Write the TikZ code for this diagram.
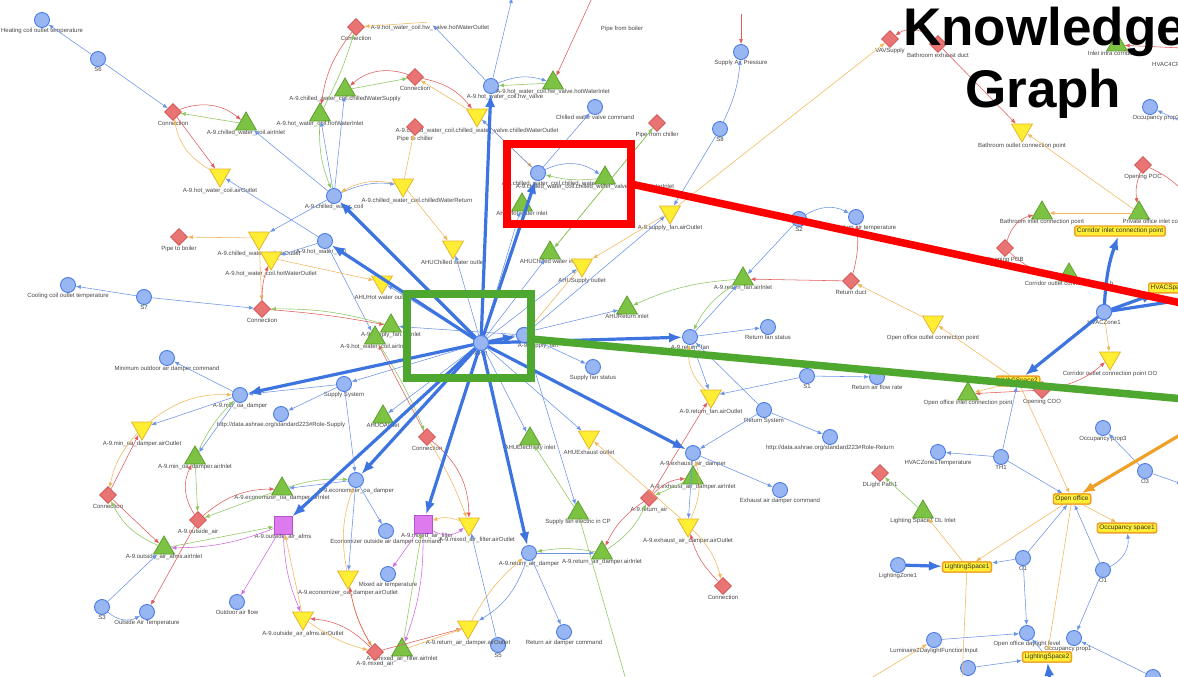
\documentclass[tikz,border=0pt]{standalone}
\usepackage{fontspec}
\setmainfont{Liberation Sans}
\usetikzlibrary{arrows.meta,shapes.geometric}

\definecolor{cf}{HTML}{97B6F2}
\definecolor{cb}{HTML}{4B7BE5}
\definecolor{gf}{HTML}{7CC243}
\definecolor{gb}{HTML}{5E9F2F}
\definecolor{yf}{HTML}{FFEE33}
\definecolor{yb}{HTML}{E3B52A}
\definecolor{rf}{HTML}{E87474}
\definecolor{rb}{HTML}{D24C4C}
\definecolor{mf}{HTML}{DD7BEE}
\definecolor{mb}{HTML}{B553CC}
\definecolor{ob}{HTML}{EFA028}
\definecolor{lb}{HTML}{6A93E8}
\definecolor{lo}{HTML}{F2B75A}
\definecolor{lg}{HTML}{8DC65E}
\definecolor{lr}{HTML}{E25B5B}
\definecolor{lm}{HTML}{CE6AE2}
\definecolor{tb}{HTML}{3D74E0}
\definecolor{hred}{HTML}{FF0000}
\definecolor{hgreen}{HTML}{4EA72E}

\tikzset{
  lbl/.style={font=\fontsize{6}{7}\selectfont,text=black!72,inner sep=0pt},
  cir/.style={circle,draw=cb,fill=cf,line width=0.9pt,minimum size=15pt,inner sep=0pt,label distance=5pt},
  gtri/.style={regular polygon,regular polygon sides=3,draw=gb,fill=gf,line width=0.8pt,minimum size=24pt,inner sep=0pt,label distance=5pt},
  ytri/.style={regular polygon,regular polygon sides=3,shape border rotate=180,draw=yb,fill=yf,line width=0.8pt,minimum size=24pt,inner sep=0pt,label distance=1pt},
  dia/.style={diamond,draw=rb,fill=rf,line width=0.8pt,minimum size=17pt,inner sep=0pt,label distance=4pt},
  sq/.style={rectangle,draw=mb,fill=mf,line width=0.8pt,minimum size=18pt,inner sep=0pt,label distance=4pt},
  ybox/.style={rectangle,rounded corners=2pt,draw=ob,fill=yf,line width=1.4pt,font=\fontsize{6.5}{7}\selectfont,text=black!80,inner sep=2pt},
  txt/.style={lbl},
  ed/.style={line width=0.55pt,-{Latex[length=5pt,width=4pt]}},
  eB/.style={ed,draw=lb},
  eO/.style={ed,draw=lo},
  eG/.style={ed,draw=lg},
  eR/.style={ed,draw=lr},
  eM/.style={ed,draw=lm},
  eT/.style={draw=tb,line width=3.2pt,-{Latex[length=13pt,width=10pt]}},
  eOT/.style={draw=ob,line width=3.2pt,-{Latex[length=13pt,width=10pt]}},
  hbox/.style={line width=7.5pt},
  ttl/.style={anchor=base west,inner sep=0pt,font=\fontsize{53}{58}\selectfont\bfseries},
}

\begin{document}
\begin{tikzpicture}[x=1pt,y=-1pt]
\useasboundingbox (0,0) rectangle (1178,677);
\clip (0,0) rectangle (1178,677);
\fill[white] (0,0) rectangle (1178,677);

% ---------- circles ----------
\node[cir,label={[lbl]below:{Heating coil outlet temperature}}] (heat) at (42,20) {};
\node[cir,label={[lbl]below:{S6}}] (s6) at (98,59) {};
\node[cir,label={[lbl,xshift=14pt]below:{A-9.hot\_water\_coil.hw\_valve}}] (hwv) at (491,86) {};
\node[cir,label={[lbl]below:{A-9.chilled\_water\_coil}}] (cwc) at (334,196) {};
\node[cir,label={[lbl,xshift=-4pt]below:{A-9.hot\_water\_coil}}] (hwc) at (325,241) {};
\node[cir,label={[lbl,xshift=20pt]below:{A-9.chilled\_water\_coil.chilled\_water\_valve}}] (cwv) at (538,173) {};
\node[cir,label={[lbl]below:{Chilled water valve command}}] (cwvc) at (595,107) {};
\node[cir,label={[lbl]below:{Supply Air Pressure}}] (sap) at (741,52) {};
\node[cir,label={[lbl]below:{S8}}] (s8) at (720,129) {};
\node[cir,label={[lbl]below:{S2}}] (s2) at (799,219) {};
\node[cir,label={[lbl,xshift=10pt]below:{Return air temperature}}] (rat) at (856,217) {};
\node[cir,label={[lbl]below:{AHU}}] (ahu) at (481,343) {};
\node[cir,label={[lbl,xshift=14pt]below:{A-9.supply\_fan}}] (sf) at (524,335) {};
\node[cir,label={[lbl]below:{Supply fan status}}] (sfs) at (593,367) {};
\node[cir,label={[lbl]below:{A-9.return\_fan}}] (rf) at (690,337) {};
\node[cir,label={[lbl]below:{Return fan status}}] (rfs) at (768,327) {};
\node[cir,label={[lbl]below:{S1}}] (s1) at (807,376) {};
\node[cir,label={[lbl]below:{Return air flow rate}}] (rafr) at (877,377) {};
\node[cir,label={[lbl]below:{Return System}}] (rsys) at (764,410) {};
\node[cir,label={[lbl]below:{http://data.ashrae.org/standard223\#Role-Return}}] (rrole) at (830,437) {};
\node[cir,label={[lbl]below:{Supply System}}] (ssys) at (344,384) {};
\node[cir,label={[lbl]below:{A-9.min\_oa\_damper}}] (mind) at (240,395) {};
\node[cir,label={[lbl]below:{Minimum outdoor air damper command}}] (minc) at (167,358) {};
\node[cir,label={[lbl]below:{http://data.ashrae.org/standard223\#Role-Supply}}] (srole) at (281,414) {};
\node[cir,label={[lbl]below:{A-9.economizer\_oa\_damper}}] (econ) at (356,480) {};
\node[cir,label={[lbl]below:{Economizer outside air damper command}}] (ecmd) at (386,531) {};
\node[cir,label={[lbl]below:{Mixed air temperature}}] (mat) at (388,574) {};
\node[cir,label={[lbl]below:{A-9.return\_air\_damper}}] (rad) at (529,553) {};
\node[cir,label={[lbl]below:{S5}}] (s5) at (498,645) {};
\node[cir,label={[lbl]below:{Return air damper command}}] (radc) at (564,632) {};
\node[cir,label={[lbl]below:{A-9.exhaust\_air\_damper}}] (ead) at (693,453) {};
\node[cir,label={[lbl]below:{Exhaust air damper command}}] (eadc) at (780,490) {};
\node[cir,label={[lbl]below:{Outdoor air flow}}] (oaf) at (237,602) {};
\node[cir,label={[lbl]below:{S3}}] (s3) at (102,607) {};
\node[cir,label={[lbl]below:{Outside Air Temperature}}] (oat) at (147,612) {};
\node[cir,label={[lbl]below:{S7}}] (s7) at (144,297) {};
\node[cir,label={[lbl]below:{Cooling coil outlet temperature}}] (ccot) at (68,285) {};
\node[cir,label={[lbl]below:{TH1}}] (th1) at (1001,457) {};
\node[cir,label={[lbl]below:{HVACZone1Temperature}}] (hzt) at (938,452) {};
\node[cir,label={[lbl]below:{O3}}] (o3) at (1145,471) {};
\node[cir,label={[lbl]below:{Occupancy prop3}}] (op3) at (1103,428) {};
\node[cir,label={[lbl]below:{O1}}] (o1a) at (1023,558) {};
\node[cir,label={[lbl]below:{O1}}] (o1b) at (1103,570) {};
\node[cir,label={[lbl]below:{LightingZone1}}] (lz1) at (898,565) {};
\node[cir,label={[lbl]below:{Open office daylight level}}] (odl) at (1027,633) {};
\node[cir,label={[lbl,xshift=-6pt]below:{Occupancy prop1}}] (op1) at (1074,638) {};
\node[cir,label={[lbl]below:{Luminaire2DaylightFunctionInput}}] (lum) at (934,640) {};
\node[cir] (cb1) at (968,668) {};
\node[cir] (cb2) at (1153,677) {};
\node[cir,label={[lbl]below:{HVACZone1}}] (hz1) at (1104,312) {};
\node[cir,label={[lbl,xshift=6pt]below:{Occupancy prop2}}] (opp) at (1150,107) {};

% ---------- inlets ----------
\node[gtri,label={[lbl]below:{A-9.chilled\_water\_coil.airInlet}}] (cwai) at (246,124) {};
\node[gtri,label={[lbl]below:{A-9.hot\_water\_coil.hotWaterInlet}}] (hwhwi) at (320,115) {};
\node[gtri,label={[lbl]below:{A-9.chilled\_water\_coil.chilledWaterSupply}}] (cwsup) at (345,90) {};
\node[gtri,label={[lbl]below:{A-9.hot\_water\_coil.hw\_valve.hotWaterInlet}}] (hwvi) at (553,83) {};
\node[gtri,label={[lbl,xshift=-10pt]below:{A-9.chilled\_water\_coil.chilled\_water\_valve.chilledWaterInlet}}] (cwvi) at (605,178) {};
\node[gtri,label={[lbl]below:{AHUHot water inlet}}] (ahuhwi) at (522,205) {};
\node[gtri,label={[lbl]below:{AHUChilled water inlet}}] (ahucwi) at (550,253) {};
\node[gtri,label={[lbl]below:{AHUReturn inlet}}] (ahuri) at (627,308) {};
\node[gtri,label={[lbl]below:{A-9.return\_fan.airInlet}}] (rfai) at (743,279) {};
\node[gtri,label={[lbl]below:{A-9.supply\_fan.airInlet}}] (sfai) at (391,326) {};
\node[gtri,label={[lbl]below:{A-9.hot\_water\_coil.airInlet}}] (hwai) at (375,338) {};
\node[gtri,label={[lbl]below:{AHUOAInlet}}] (ahuoa) at (383,417) {};
\node[gtri,label={[lbl]below:{AHUElectricity inlet}}] (ahuei) at (530,439) {};
\node[gtri,label={[lbl]below:{Supply fan electric in CP}}] (sfe) at (578,513) {};
\node[gtri,label={[lbl]below:{A-9.return\_air\_damper.airInlet}}] (radi) at (602,553) {};
\node[gtri,label={[lbl]below:{A-9.exhaust\_air\_damper.airInlet}}] (eadi) at (693,478) {};
\node[gtri,label={[lbl]below:{A-9.economizer\_oa\_damper.airInlet}}] (ecai) at (282,489) {};
\node[gtri,label={[lbl]below:{A-9.min\_oa\_damper.airInlet}}] (minai) at (195,458) {};
\node[gtri,label={[lbl]below:{A-9.outside\_air\_afms.airInlet}}] (afmsi) at (164,548) {};
\node[gtri,label={[lbl]below:{A-9.mixed\_air\_filter.airInlet}}] (mafi) at (402,650) {};
\node[gtri,label={[lbl]below:{Bathroom inlet connection point}}] (bici) at (1042,213) {};
\node[gtri,label={[lbl]below:{Inlet intra corridor4CP}}] (iic) at (1117,45) {};
\node[gtri,label={[lbl,xshift=30pt]below:{Private office inlet connection point}}] (cict) at (1139,213) {};
\node[gtri,label={[lbl]below:{Corridor outlet connection point b}}] (cocb) at (1069,275) {};
\node[gtri,label={[lbl]below:{Open office inlet connection point}}] (ooic) at (968,394) {};
\node[gtri,label={[lbl]below:{Lighting Space1 DL Inlet}}] (lsdl) at (923,512) {};

% ---------- outlets ----------
\node[ytri,label={[lbl]below:{A-9.hot\_water\_coil.airOutlet}}] (hwao) at (220,175) {};
\node[ytri,label={[lbl]below:{A-9.chilled\_water\_coil.chilled\_water\_valve.chilledWaterOutlet}}] (cwvo) at (477,115) {};
\node[ytri,label={[lbl,xshift=14pt]below:{A-9.chilled\_water\_coil.chilledWaterReturn}}] (cwret) at (403,185) {};
\node[ytri,label={[lbl]below:{A-9.chilled\_water\_coil.airOutlet}}] (cwao) at (259,238) {};
\node[ytri,label={[lbl]below:{A-9.hot\_water\_coil.hotWaterOutlet}}] (hwhwo) at (271,258) {};
\node[ytri,label={[lbl]below:{AHUChilled water outlet}}] (ahucwo) at (453,247) {};
\node[ytri,label={[lbl]below:{AHUHot water outlet}}] (ahuhwo) at (382,282) {};
\node[ytri,label={[lbl]below:{A-9.supply\_fan.airOutlet}}] (sfao) at (670,212) {};
\node[ytri,label={[lbl]below:{AHUSupply outlet}}] (ahuso) at (582,265) {};
\node[ytri,label={[lbl]below:{A-9.return\_fan.airOutlet}}] (rfao) at (711,396) {};
\node[ytri,label={[lbl]below:{AHUExhaust outlet}}] (ahueo) at (589,437) {};
\node[ytri,label={[lbl]below:{A-9.min\_oa\_damper.airOutlet}}] (minao) at (142,428) {};
\node[ytri,label={[lbl,xshift=8pt]below:{A-9.mixed\_air\_filter.airOutlet}}] (mafo) at (469,524) {};
\node[ytri,label={[lbl]below:{A-9.economizer\_oa\_damper.airOutlet}}] (ecao) at (348,577) {};
\node[ytri,label={[lbl]below:{A-9.outside\_air\_afms.airOutlet}}] (afmso) at (303,618) {};
\node[ytri,label={[lbl]below:{A-9.return\_air\_damper.airOutlet}}] (rado) at (468,627) {};
\node[ytri,label={[lbl]below:{A-9.exhaust\_air\_damper.airOutlet}}] (eado) at (688,525) {};
\node[ytri,label={[lbl]below:{Bathroom outlet connection point}}] (bocp) at (1022,130) {};
\node[ytri,label={[lbl]below:{Open office outlet connection point}}] (oooc) at (933,322) {};
\node[ytri,label={[lbl]below:{Corridor outlet connection point OO}}] (cooo) at (1110,358) {};

% ---------- connections and ducts ----------
\node[dia,label={[lbl]below:{Connection}}] (con1) at (173,112) {};
\node[dia,label={[lbl]below:{Connection}}] (con2) at (356,27) {};
\node[dia,label={[lbl]below:{Connection}}] (con3) at (415,77) {};
\node[dia,label={[lbl]below:{Pipe to chiller}}] (p2c) at (415,127) {};
\node[dia,label={[lbl]below:{Pipe from chiller}}] (pfc) at (657,123) {};
\node[dia,label={[lbl]below:{Pipe to boiler}}] (p2b) at (179,237) {};
\node[dia,label={[lbl]below:{Connection}}] (con4) at (262,309) {};
\node[dia,label={[lbl]below:{Connection}}] (con5) at (427,437) {};
\node[dia,label={[lbl]below:{Return duct}}] (rduct) at (851,281) {};
\node[dia,label={[lbl]below:{A-9.outside\_air}}] (oa) at (198,520) {};
\node[dia,label={[lbl]below:{Connection}}] (con6) at (108,495) {};
\node[dia,label={[lbl]below:{A-9.mixed\_air}}] (ma) at (375,652) {};
\node[dia,label={[lbl]below:{A-9.return\_air}}] (ra) at (649,498) {};
\node[dia,label={[lbl]below:{Connection}}] (con7) at (723,586) {};
\node[dia,label={[lbl]below:{DLight Path1}}] (dlp) at (880,473) {};
\node[dia,label={[lbl]below:{VAVSupply}}] (vav) at (890,39) {};
\node[dia,label={[lbl]below:{Bathroom exhaust duct}}] (bed) at (938,44) {};
\node[dia,label={[lbl]below:{Opening POC}}] (opoc) at (1143,165) {};
\node[dia,label={[lbl]below:{Opening POB}}] (opx) at (1005,248) {};
\node[dia,label={[lbl]below:{Opening COO}}] (ocoo) at (1042,390) {};

% ---------- flow sensors ----------
\node[sq,label={[lbl]below:{A-9.outside\_air\_afms}}] (afms) at (283,525) {};
\node[sq,label={[lbl,xshift=4pt]below:{A-9.mixed\_air\_filter}}] (maf) at (423,524) {};

% ---------- nodes whose shape lies past the edge ----------
\node[txt] (pfb) at (622,29) {Pipe from boiler};
\node[inner sep=0pt,minimum size=6pt,label={[lbl]below:{A-9.hot\_water\_coil.hw\_valve.hotWaterOutlet}}] (hwvo) at (430,22) {};
\node[txt,anchor=west] (hvac4) at (1152,64) {HVAC4CP};
\coordinate (pfbtop) at (592,-2);
\coordinate (hwvtop) at (512,-2);
\coordinate (saptop) at (741,14);
\coordinate (sfebot) at (626,680);
\coordinate (iicr) at (1182,48);
\coordinate (opocr) at (1182,190);
\coordinate (hzr) at (1182,300);
\coordinate (o3r) at (1182,484);
\coordinate (oppr) at (1182,122);
\coordinate (ls1bot) at (962,680);
\coordinate (lumsrc) at (868,680);
\coordinate (ls2bot) at (1052,700);
\coordinate (ooright) at (1185,432);

% ---------- spaces ----------
\node[ybox] (oo) at (1072,499) {Open office};
\node[ybox] (os1) at (1127,528) {Occupancy space1};
\node[ybox] (ls1) at (967,567) {LightingSpace1};
\node[ybox] (ls2) at (1047,657) {LightingSpace2};

% ---------- thin edges ----------
\draw[eB] (s6) -- (heat);
\draw[eB] (s6) -- (con1);
\draw[eR] (con1) to[bend left=30] (cwai);
\draw[eG] (cwai) -- (con1);
\draw[eR] (con1) -- (hwao);
\draw[eO] (hwao) to[bend left=25] (con1);
\draw[eB] (cwc) -- (cwai);
\draw[eB] (hwc) -- (hwao);
\draw[eR] (con2) to[bend right=15] (hwhwi);
\draw[eG] (hwhwi) to[bend right=5] (con2);
\draw[eO] (hwvo) -- (con2);
\draw[eR] (con3) to[bend right=30] (cwsup);
\draw[eG] (cwsup) -- (con3);
\draw[eR] (con3) to[bend left=20] (cwvo);
\draw[eO] (cwvo) -- (con3);
\draw[eO] (cwret) -- (p2c);
\draw[eB] (cwc) to[bend left=15] (cwret);
\draw[eO] (cwret) to[bend right=20] (cwc);
\draw[eB] (cwc) -- (cwsup);
\draw[eB] (cwc) -- (hwhwi);
\draw[eG] (hwhwi) to[bend right=12] (cwc);
\draw[eB] (hwv) to[bend left=20] (hwvi);
\draw[eG] (hwvi) -- (hwv);
\draw[eR] (pfbtop) -- (hwvi);
\draw[eB] (hwv) -- (hwvo);
\draw[eB] (hwv) -- (hwvtop);
\draw[eO] (cwvo) -- (cwv);
\draw[eB] (cwv) -- (cwvo);
\draw[eB] (cwv) to[bend left=30] (cwvi);
\draw[eG] (cwvi) to[bend left=10] (cwv);
\draw[eB] (cwv) -- (cwvc);
\draw[eG] (ahucwi) -- (pfc);
\draw[eG] (pfc) -- (ahucwi);
\draw[eB] (s8) to[bend right=10] (sap);
\draw[eR] (saptop) -- (sap);
\draw[eB] (s8) -- (sfao);
\draw[eO] (sfao) -- (vav);
\draw[eB] (sf) -- (sfao);
\draw[eO] (sfao) -- (ahuso);
\draw[eO] (ahuso) -- (sf);
\draw[eB] (sf) -- (sfs);
\draw[eB] (rf) -- (rfs);
\draw[eB] (rf) -- (rfai);
\draw[eG] (rfai) to[bend right=15] (rf);
\draw[eB] (s2) -- (rfai);
\draw[eR] (rduct) -- (rfai);
\draw[eG] (rfai) to[bend right=10] (ahuri);
\draw[eB] (ahu) -- (ahuri);
\draw[eR] (rduct) to[bend right=10] (rat);
\draw[eB] (s2) to[bend left=30] (rat);
\draw[eO] (oooc) -- (rduct);
\draw[eB] (rf) -- (rfao);
\draw[eO] (rfao) to[bend left=25] (rf);
\draw[eB] (s1) -- (rfao);
\draw[eB] (s1) -- (rafr);
\draw[eB] (rsys) -- (rrole);
\draw[eB] (rsys) -- (rf);
\draw[eB] (rsys) -- (ead);
\draw[eR] (ra) -- (rfao);
\draw[eB] (ead) -- (eadc);
\draw[eB] (ead) -- (eado);
\draw[eO] (eado) to[bend right=20] (ead);
\draw[eR] (ra) to[bend left=20] (eadi);
\draw[eG] (eadi) -- (ra);
\draw[eR] (ra) to[bend right=15] (radi);
\draw[eG] (radi) to[bend right=15] (ra);
\draw[eB] (rad) -- (radi);
\draw[eG] (radi) to[bend right=10] (rad);
\draw[eO] (eado) to[bend left=15] (con7);
\draw[eR] (con7) to[bend left=15] (eado);
\draw[eO] (eado) -- (ahueo);
\draw[eG] (sfe) -- (ahuei);
\draw[eB] (sf) -- (sfe);
\draw[lg,line width=0.55pt] (sfe) -- (sfebot);
\draw[eB] (rad) -- (radc);
\draw[eB] (rad) to[bend left=20] (rado);
\draw[eO] (rado) to[bend left=10] (rad);
\draw[eR] (ma) -- (rado);
\draw[eO] (mafi) -- (rado);
\draw[eB] (s5) -- (mafo);
\draw[eM] (maf) -- (mat);
\draw[eM] (maf) to[bend right=35] (mafo);
\draw[eO] (mafo) to[bend right=20] (maf);
\draw[eR] (con5) to[bend left=25] (mafo);
\draw[eO] (con5) to[bend left=5] (mafo);
\draw[eM] (maf) to[bend left=10] (mafi);
\draw[eG] (mafi) -- (maf);
\draw[eB] (econ) -- (ecmd);
\draw[eB] (econ) -- (ecao);
\draw[eO] (ecao) to[bend left=15] (econ);
\draw[eB] (econ) -- (ecai);
\draw[eG] (ecai) to[bend left=10] (econ);
\draw[eR] (oa) to[bend left=20] (ecai);
\draw[eG] (ecai) -- (oa);
\draw[eO] (ecao) to[bend right=10] (ma);
\draw[eR] (ma) to[bend left=10] (ecao);
\draw[eM] (afms) -- (oaf);
\draw[eM] (afms) to[bend right=10] (afmso);
\draw[eO] (afmso) -- (afms);
\draw[eM] (afms) to[bend left=10] (afmsi);
\draw[eG] (afmsi) -- (afms);
\draw[eR] (ma) to[bend right=20] (afmso);
\draw[eO] (afmso) to[bend right=10] (ma);
\draw[eR] (oa) to[bend left=30] (minai);
\draw[eG] (minai) -- (oa);
\draw[eR] (oa) -- (oat);
\draw[eR] (con6) -- (afmsi);
\draw[eG] (afmsi) to[bend left=20] (con6);
\draw[eO] (minao) to[bend right=15] (con6);
\draw[eR] (con6) -- (minao);
\draw[eB] (s3) to[bend right=35] (oat);
\draw[eB] (s3) -- (afmsi);
\draw[eB] (mind) -- (minc);
\draw[eB] (mind) -- (minao);
\draw[eO] (minao) to[bend left=20] (mind);
\draw[eB] (mind) -- (minai);
\draw[eG] (minai) to[bend left=10] (mind);
\draw[eB] (ssys) -- (srole);
\draw[eB] (ahu) -- (ssys);
\draw[eB] (ssys) -- (econ);
\draw[eB] (ssys) -- (mind);
\draw[eB] (hwc) -- (hwai);
\draw[eB] (hwc) -- (hwhwo);
\draw[eB] (cwc) -- (cwao);
\draw[eO] (cwao) -- (con4);
\draw[eR] (con4) to[bend left=10] (hwhwo);
\draw[eB] (s7) -- (con4);
\draw[eB] (s7) -- (ccot);
\draw[eO] (cwao) -- (p2b);
\draw[eR] (con4) to[bend left=3] (sfai);
\draw[eG] (sfai) to[bend right=8] (con4);
\draw[eR] (con5) -- (hwai);
\draw[eG] (hwai) to[bend left=5] (con5);
\draw[eO] (hwhwo) -- (ahuhwo);
\draw[eB] (ahu) -- (ahuhwo);
\draw[eO] (cwret) -- (ahucwo);
\draw[eB] (ahu) -- (ahucwo);
\draw[eB] (ahu) -- (ahuhwi);
\draw[eB] (ahu) -- (ahucwi);
\draw[eB] (ahu) -- (ahuso);
\draw[eB] (ahu) -- (ahuoa);
\draw[eB] (ahu) -- (ahuei);
\draw[eB] (ahu) -- (ahueo);
\draw[eB] (sf) -- (sfai);
% zones and spaces
\draw[eR] (bed) to[bend right=40] (vav);
\draw[eR] (bed) -- (bocp);
\draw[eO] (cict) -- (bocp);
\draw[eO] (cict) -- (bici);
\draw[eR] (opx) to[bend left=30] (bici);
\draw[eR] (opx) to[bend right=20] (cocb);
\draw[eR] (opoc) to[bend right=15] (cict);
\draw[lr,line width=0.55pt] (opoc) to[bend left=10] (opocr);
\draw[eR] (iicr) -- (iic);
\draw[eO] (hz1) -- (cooo);
\draw[eR] (ocoo) to[bend right=15] (cooo);
\draw[eR] (ocoo) -- (ooic);
\draw[eB] (th1) -- (hzt);
\draw[eB] (th1) -- (oo);
\draw[eO] (oo) -- (os1);
\draw[eO] (oo) -- (ls1);
\draw[eO] (oo) -- (ls2);
\draw[eB] (o1a) -- (oo);
\draw[eB] (o1a) -- (ls1);
\draw[eB] (o1a) -- (odl);
\draw[eB] (o1b) -- (oo);
\draw[eB] (o1b) to[bend right=35] (os1);
\draw[eB] (o1b) -- (op1);
\draw[eG] (lsdl) -- (dlp);
\draw[eO] (ls1) -- (lsdl);
\draw[lo,line width=0.55pt] (ls1) -- (ls1bot);
\draw[eB] (lum) -- (odl);
\draw[eO] (lumsrc) -- (lum);
\draw[eB] (cb1) -- (ls2);
\draw[eB] (cb2) -- (op1);
\draw[eB] (ls2) -- (odl);
\draw[eB] (o3) -- (o3r);
\draw[eB] (o3) -- (op3);
\draw[eB] (oppr) -- (opp);

% ---------- thick edges ----------
\draw[eT] (ahu) -- (hwv);
\draw[eT] (ahu) -- (cwv);
\draw[eT] (ahu) -- (cwc);
\draw[eT] (ahu) -- (hwc);
\draw[eT] (ahu) -- (sf);
\draw[eT] (ahu) -- (rf);
\draw[eT] (ahu) -- (mind);
\draw[eT] (ahu) -- (econ);
\draw[eT] (ahu) -- (afms);
\draw[eT] (ahu) -- (maf);
\draw[eT] (ahu) -- (rad);
\draw[eT] (ahu) -- (ead);
\draw[eT] (lz1) -- (ls1);
\draw[eT] (ls2bot) -- (ls2);
\draw[eOT] (ooright) -- (oo);

% zone boxes and the hubs, kept above their edges
\node[ybox] (cicp) at (1120,231) {Corridor inlet connection point};
\node[ybox,anchor=west] (hvs) at (1148,288) {HVACSpace1};
\node[ybox] (oob) at (1018,381) {HVACSpace2};
\draw[eT] (hz1) to[bend left=8] (cicp);
\draw[eT] (hz1) -- (hvs);
\draw[eT] (hz1) -- (oob);
\draw[tb,line width=3.2pt] (hz1) -- (hzr);
\draw[eB] (th1) -- (oob);
\draw[eO] (oob) -- (ooic);
\draw[eO] (oob) -- (oooc);
\draw[eO] (oob) -- (oo);
\node[cir] at (ahu) {};
\node[cir] at (sf) {};
\node[cir] at (hz1) {};
\node[ybox] at (oo) {Open office};
\node[ybox] at (ls1) {LightingSpace1};
\node[ybox] at (ls2) {LightingSpace2};

% ---------- highlight frames ----------
\draw[hred,hbox] (507,144) rectangle (631,224);
\coordinate (redA) at (631,184);
\coordinate (redB) at (1195,306);
\draw[hred,hbox] (redA) -- (redB);
\draw[hgreen,hbox] (407,294) rectangle (531,378);
\coordinate (grnA) at (531,339);
\coordinate (grnB) at (1195,400);
\draw[hgreen,hbox] (grnA) -- (grnB);

% ---------- title ----------
\node[ttl] (t1) at (903,46) {Knowledge};
\node[ttl] (t2) at (965,107) {Graph};
\end{tikzpicture}
\end{document}
